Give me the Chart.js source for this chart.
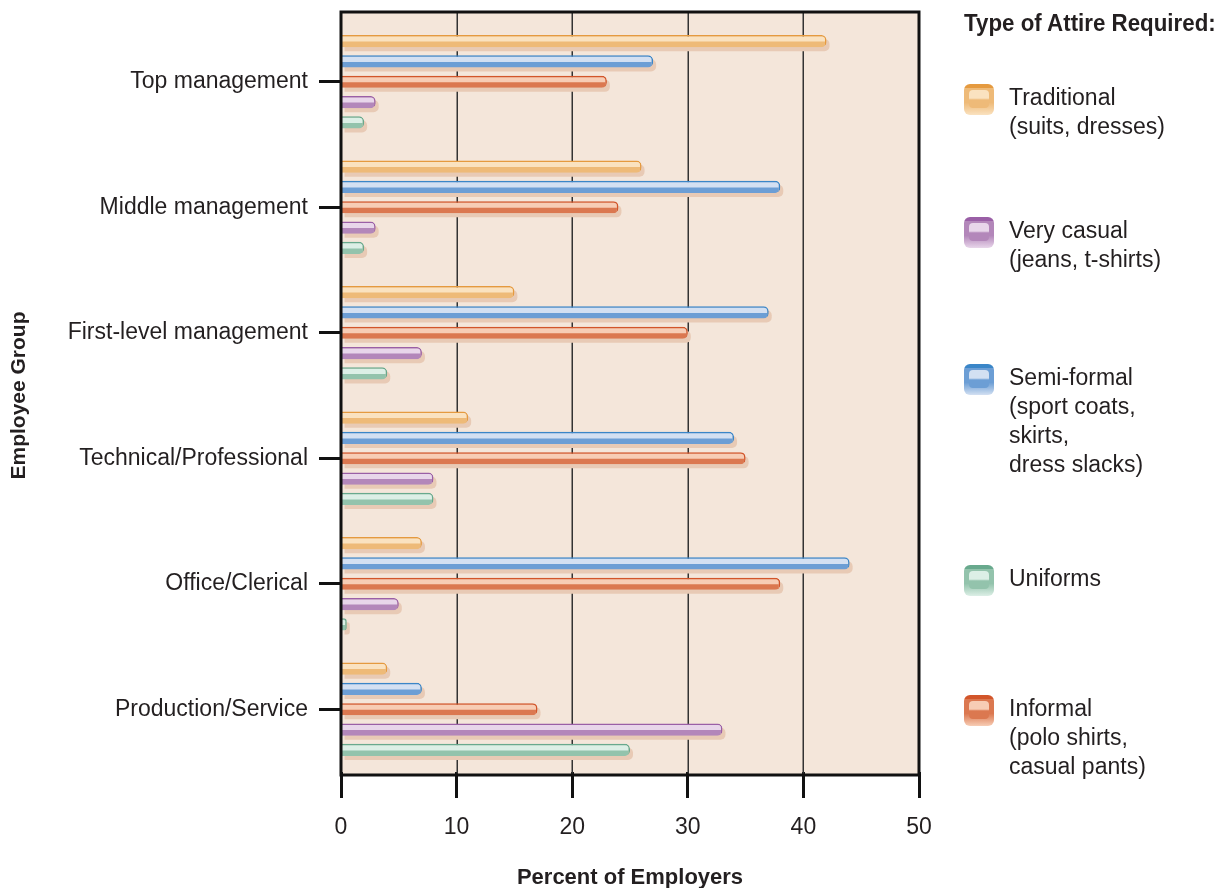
<!DOCTYPE html>
<html>
<head>
<meta charset="utf-8">
<script src="https://cdn.jsdelivr.net/npm/chart.js@4.4.1/dist/chart.umd.min.js"></script>
<style>
	body { margin: 0; background: #fff; }
	#wrap { position: relative; width: 1229px; height: 888px; }
	#legend { position: absolute; left: 0; top: 0; font-family: 'Liberation Sans', Arial, sans-serif; color: #231f20; }
	#legend .title { position: absolute; left: 964px; top: 9px; font-weight: bold; font-size: 24px; white-space: nowrap; transform: scaleX(0.93); transform-origin: left top; }
	#legend .swatch { position: absolute; left: 964px; width: 30px; height: 31px; border-radius: 6px; }
	#legend .swatch i { position: absolute; left: 5px; top: 6px; width: 20px; height: 18px; border-radius: 4px; }
	#legend .text { position: absolute; left: 1009px; font-size: 23px; line-height: 29px; white-space: nowrap; }
</style>
</head>
<body>
<div id="wrap">
	<canvas id="myChart" width="1229" height="888"></canvas>
	<div id="legend"></div>
</div>
<script>
// data
const categories = ['Top management', 'Middle management', 'First-level management', 'Technical/Professional', 'Office/Clerical', 'Production/Service'];
const traditional = [42, 26, 15, 11, 7, 4];
const semiFormal = [27, 38, 37, 34, 44, 7];
const informal = [23, 24, 30, 35, 38, 17];
const veryCasual = [3, 3, 7, 8, 5, 33];
const uniforms = [2, 2, 4, 8, 0.5, 25];
const xTicks = [0, 10, 20, 30, 40, 50];

const legendTitle = 'Type of Attire Required:';
const legendOrder = ['Traditional', 'Very casual', 'Semi-formal', 'Uniforms', 'Informal'];
const legendText = {
	'Traditional': ['Traditional', '(suits, dresses)'],
	'Very casual': ['Very casual', '(jeans, t-shirts)'],
	'Semi-formal': ['Semi-formal', '(sport coats,', 'skirts,', 'dress slacks)'],
	'Uniforms': ['Uniforms'],
	'Informal': ['Informal', '(polo shirts,', 'casual pants)']
};

// colours: edge, light band, main band
const palette = {
	'Traditional': ['#e59a3f', '#fae2c0', '#eeba78'],
	'Semi-formal': ['#3a86c8', '#d3e0f2', '#6c9ed5'],
	'Informal': ['#d2552a', '#f7cdb5', '#db7850'],
	'Very casual': ['#9a5fa6', '#e8d6ea', '#b387ba'],
	'Uniforms': ['#68a98d', '#dcefe6', '#93c3ac']
};

const series = [
	['Traditional', traditional],
	['Semi-formal', semiFormal],
	['Informal', informal],
	['Very casual', veryCasual],
	['Uniforms', uniforms]
];

const FONT = "'Liberation Sans', Arial, sans-serif";
const BOLD = "'Liberation Sans Narrow', 'Liberation Sans', Arial, sans-serif";
const shadowColor = '#e8cab5';
// the frame reaches a little beyond the category band
const FRAME_TOP = 7;
const FRAME_BOTTOM = 3;

// plot background, grid lines, shadows and frame
const backdrop = {
	id: 'backdrop',
	beforeDraw: (chart) => {
		const {ctx, chartArea: a} = chart;
		ctx.save();
		ctx.fillStyle = '#f4e6da';
		ctx.fillRect(a.left, a.top - FRAME_TOP, a.right - a.left, a.bottom - a.top + FRAME_TOP + FRAME_BOTTOM);
		ctx.restore();
	},
	beforeDatasetsDraw: (chart) => {
		const {ctx, chartArea: a, scales} = chart;
		ctx.save();
		ctx.strokeStyle = '#333';
		ctx.lineWidth = 1.5;
		xTicks.slice(1, -1).forEach((v) => {
			const px = Math.round(scales.x.getPixelForValue(v)) + 0.25;
			ctx.beginPath();
			ctx.moveTo(px, a.top - FRAME_TOP);
			ctx.lineTo(px, a.bottom + FRAME_BOTTOM);
			ctx.stroke();
		});
		ctx.fillStyle = shadowColor;
		chart.data.datasets.forEach((ds, i) => {
			chart.getDatasetMeta(i).data.forEach((bar) => {
				const w = bar.x - bar.base;
				const r = Math.min(5, w / 2, bar.height / 2);
				ctx.beginPath();
				ctx.roundRect(bar.base + 3, bar.y - bar.height / 2 + 4, w, bar.height, [0, r, r, 0]);
				ctx.fill();
			});
		});
		ctx.restore();
	},
	afterDatasetsDraw: (chart) => {
		const {ctx, chartArea: a} = chart;
		ctx.save();
		// light upper band of every bar
		chart.data.datasets.forEach((ds, i) => {
			const light = palette[ds.label][1];
			chart.getDatasetMeta(i).data.forEach((bar) => {
				const top = bar.y - bar.height / 2 + 1.5;
				const w = bar.x - bar.base - 1.5;
				if (w <= 0) return;
				const r = Math.min(3.5, w / 2);
				ctx.save();
				ctx.beginPath();
				ctx.rect(bar.base, top, w, bar.height / 2 - 1);
				ctx.clip();
				ctx.beginPath();
				ctx.roundRect(bar.base, top, w, bar.height - 1.5, [0, r, r, 0]);
				ctx.fillStyle = light;
				ctx.fill();
				ctx.restore();
			});
		});
		// frame
		ctx.strokeStyle = '#111';
		ctx.lineWidth = 3;
		ctx.strokeRect(a.left, a.top - FRAME_TOP, a.right - a.left, a.bottom - a.top + FRAME_TOP + FRAME_BOTTOM);
		ctx.restore();
	}
};

const makeChart = () => {
	const ctx = document.getElementById('myChart').getContext('2d');
	return new Chart(ctx, {
		type: 'bar',
		data: {
			labels: categories,
			datasets: series.map(([name, values]) => ({
				label: name,
				data: values,
				backgroundColor: palette[name][2],
				borderColor: palette[name][0],
				borderWidth: {top: 1.5, right: 1.5, bottom: 0, left: 0},
				borderSkipped: 'start',
				borderRadius: 5,
				categoryPercentage: 0.81,
				barPercentage: 0.6
			}))
		},
		options: {
			indexAxis: 'y',
			responsive: false,
			animation: false,
			layout: {padding: {top: 19, right: 310, bottom: 0, left: 0}},
			plugins: {
				legend: {display: false},
				tooltip: {enabled: false}
			},
			scales: {
				x: {
					min: 0,
					max: 50,
					afterBuildTicks: (scale) => { scale.ticks = xTicks.map((v) => ({value: v})); },
					afterFit: (scale) => {
						scale.height = 116;
						scale.paddingLeft = 0;
						scale.paddingRight = 0;
					},
					border: {display: false},
					grid: {drawOnChartArea: false, tickColor: '#111', tickWidth: 3, tickLength: 26},
					ticks: {color: '#231f20', padding: 16, font: {family: FONT, size: 23}},
					title: {
						display: true,
						text: 'Percent of Employers',
						color: '#231f20',
						padding: {top: 0, bottom: -3},
						font: {family: BOLD, size: 22, weight: 'bold'}
					}
				},
				y: {
					afterFit: (scale) => {
						scale.width = 341;
						scale.paddingTop = 0;
						scale.paddingBottom = 0;
					},
					border: {display: false},
					grid: {drawOnChartArea: false, offset: false, tickColor: '#111', tickWidth: 3, tickLength: 22},
					ticks: {color: '#231f20', padding: 11, font: {family: FONT, size: 23}},
					title: {
						display: true,
						text: 'Employee Group',
						color: '#231f20',
						padding: {top: 7, bottom: 0},
						font: {family: BOLD, size: 21, weight: 'bold'}
					}
				}
			}
		},
		plugins: [backdrop]
	});
};

// legend on the right
const makeLegend = () => {
	const box = document.getElementById('legend');
	const tops = [84, 217, 364, 565, 695];
	const title = document.createElement('div');
	title.className = 'title';
	title.textContent = legendTitle;
	box.appendChild(title);
	legendOrder.forEach((name, i) => {
		const [edge, light, main] = palette[name];
		const sw = document.createElement('div');
		sw.className = 'swatch';
		sw.style.top = tops[i] + 'px';
		sw.style.background = `linear-gradient(${edge} 0 4px, ${main} 4px 60%, ${light} 100%)`;
		const inner = document.createElement('i');
		inner.style.background = `linear-gradient(${light} 0 45%, ${main} 55% 100%)`;
		sw.appendChild(inner);
		box.appendChild(sw);
		const txt = document.createElement('div');
		txt.className = 'text';
		txt.style.top = (tops[i] - 1) + 'px';
		txt.innerHTML = legendText[name].join('<br>');
		box.appendChild(txt);
	});
};

makeChart();
makeLegend();
</script>
</body>
</html>
